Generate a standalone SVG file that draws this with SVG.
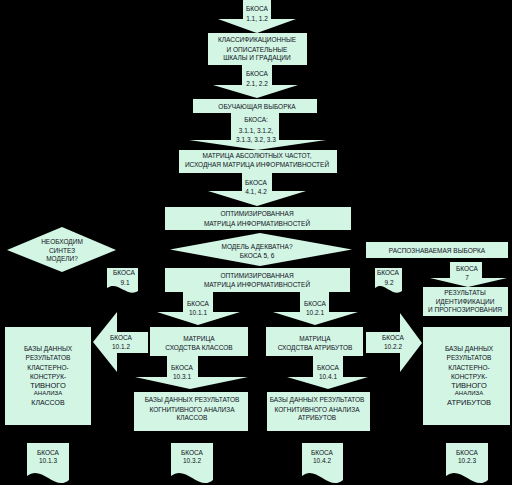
<svg xmlns="http://www.w3.org/2000/svg" width="512" height="485" viewBox="0 0 512 485">
<style>
.s{fill:#d2f5e4;stroke:none}
text{font-family:"Liberation Sans",Arial,sans-serif;font-size:6.5px;fill:#111122;text-anchor:middle}
</style>
<rect x="0" y="0" width="512" height="485" fill="#000000"/>
<g id="connectors">
  <g id="a1"><polygon class="s" points="243,0 271,0 271,19 296,19 257,33 218,19 243,19"/>
    <text x="257" y="11">БКОСА</text><text x="257" y="20.5">1.1, 1.2</text></g>
  <g id="a2"><polygon class="s" points="242,65 272,65 272,85 298,85 257,98 213,85 242,85"/>
    <text x="257" y="76">БКОСА</text><text x="257" y="86">2.1, 2.2</text></g>
  <g id="a3"><polygon class="s" points="231,113 279,113 279,140 326,140 257,150 189,140 231,140"/>
    <text x="256" y="122">БКОСА:</text><text x="256" y="132.5">3.1.1, 3.1.2,</text><text x="256" y="142">3.1.3, 3.2, 3.3</text></g>
  <g id="a4"><polygon class="s" points="242,173 272,173 272,191 306,191 257,206 208,191 242,191"/>
    <text x="256" y="185">БКОСА</text><text x="256" y="194">4.1, 4.2</text></g>
  <g id="a7"><polygon class="s" points="450,262 482,262 482,278 507,278 468,287 430,278 450,278"/>
    <text x="467" y="271">БКОСА</text><text x="467" y="280">7</text></g>
  <g id="a1011"><polygon class="s" points="183,292 213,292 213,312 240,312 198,325 157,312 183,312"/>
    <text x="198" y="306">БКОСА</text><text x="198" y="315">10.1.1</text></g>
  <g id="a1021"><polygon class="s" points="300,292 329,292 329,312 358,312 315,325 273,312 300,312"/>
    <text x="315" y="306">БКОСА</text><text x="315" y="315">10.2.1</text></g>
  <g id="a1012"><polygon class="s" points="148,332 148,353 117,353 117,372 93,342 117,312 117,332"/>
    <text x="121" y="340">БКОСА</text><text x="121" y="349">10.1.2</text></g>
  <g id="a1022"><polygon class="s" points="366,332 400,332 400,313 422,343 400,372 400,353 366,353"/>
    <text x="393" y="340">БКОСА</text><text x="393" y="349">10.2.2</text></g>
  <g id="a1031"><polygon class="s" points="167,356 198,356 198,377 248,377 190,389 135,377 167,377"/>
    <text x="182" y="369.5">БКОСА</text><text x="182" y="378.5">10.3.1</text></g>
  <g id="a1041"><polygon class="s" points="313,356 343,356 343,377 368,377 328,389 287,377 313,377"/>
    <text x="328" y="369.5">БКОСА</text><text x="328" y="378.5">10.4.1</text></g>
</g>
<g id="scales"><rect class="s" x="208" y="33" width="99" height="32"/>
  <text x="257" y="42">КЛАССИФИКАЦИОННЫЕ</text><text x="257" y="52">И ОПИСАТЕЛЬНЫЕ</text><text x="257" y="60">ШКАЛЫ И ГРАДАЦИИ</text></g>
<g id="training"><rect class="s" x="193" y="99" width="124" height="14"/>
  <text x="257" y="109">ОБУЧАЮЩАЯ ВЫБОРКА</text></g>
<g id="abs"><rect class="s" x="179" y="150" width="158" height="23"/>
  <text x="257" y="157.5">МАТРИЦА АБСОЛЮТНЫХ ЧАСТОТ,</text><text x="257" y="167">ИСХОДНАЯ МАТРИЦА ИНФОРМАТИВНОСТЕЙ</text></g>
<g id="opt1"><rect class="s" x="165" y="207" width="186" height="23"/>
  <text x="257" y="216">ОПТИМИЗИРОВАННАЯ</text><text x="257" y="225.5">МАТРИЦА ИНФОРМАТИВНОСТЕЙ</text></g>
<g id="adequate"><polygon class="s" points="170,249.5 260,233 352,249.5 260,266"/>
  <text x="257" y="249">МОДЕЛЬ АДЕКВАТНА?</text><text x="257" y="258">БКОСА 5, 6</text></g>
<g id="opt2"><rect class="s" x="165" y="268" width="185" height="24"/>
  <text x="257" y="278">ОПТИМИЗИРОВАННАЯ</text><text x="257" y="287">МАТРИЦА ИНФОРМАТИВНОСТЕЙ</text></g>
<g id="synth"><polygon class="s" points="7,250 62,227 116,250 62,272"/>
  <text x="62" y="244">НЕОБХОДИМ</text><text x="62" y="253">СИНТЕЗ</text><text x="62" y="261">МОДЕЛИ?</text></g>
<g id="d91"><path class="s" d="M107,268 H138 V291 C127,298 118,280 107,288 Z"/>
  <text x="124" y="275">БКОСА</text><text x="125" y="285">9.1</text></g>
<g id="d92"><path class="s" d="M375,268 H402 V291 C392,298 384,280 375,288 Z"/>
  <text x="388" y="275">БКОСА</text><text x="389" y="285">9.2</text></g>
<g id="recog"><rect class="s" x="366" y="242" width="142" height="16"/>
  <text x="437" y="252.5">РАСПОЗНАВАЕМАЯ ВЫБОРКА</text></g>
<g id="results"><rect class="s" x="423" y="287" width="85" height="29"/>
  <text x="465" y="295">РЕЗУЛЬТАТЫ</text><text x="465" y="303.5">ИДЕНТИФИКАЦИИ</text><text x="465" y="312">И ПРОГНОЗИРОВАНИЯ</text></g>
<g id="simcls"><rect class="s" x="150" y="327" width="98" height="29"/>
  <text x="199" y="341">МАТРИЦА</text><text x="199" y="350">СХОДСТВА КЛАССОВ</text></g>
<g id="simattr"><rect class="s" x="266" y="327" width="97" height="29"/>
  <text x="315" y="341">МАТРИЦА</text><text x="315" y="350">СХОДСТВА АТРИБУТОВ</text></g>
<g id="dbclsL"><rect class="s" x="5" y="327" width="86" height="98"/>
  <text x="48" y="351">БАЗЫ ДАННЫХ</text><text x="48" y="360">РЕЗУЛЬТАТОВ</text><text x="48" y="370">КЛАСТЕРНО-</text><text x="48" y="379">КОНСТРУК-</text><text x="48" y="388" style="font-size:7.5px">ТИВНОГО</text><text x="48" y="395" style="font-size:6px">АНАЛИЗА</text><text x="48" y="404.5" style="font-size:7px">КЛАССОВ</text></g>
<g id="dbattrR"><rect class="s" x="423" y="327" width="87" height="98"/>
  <text x="469" y="351">БАЗЫ ДАННЫХ</text><text x="469" y="360">РЕЗУЛЬТАТОВ</text><text x="469" y="370">КЛАСТЕРНО-</text><text x="469" y="379">КОНСТРУК-</text><text x="469" y="388" style="font-size:7.5px">ТИВНОГО</text><text x="469" y="395" style="font-size:6px">АНАЛИЗА</text><text x="469" y="404.5" style="font-size:7.5px">АТРИБУТОВ</text></g>
<g id="dbcogcls"><rect class="s" x="134" y="392" width="114" height="39"/>
  <text x="192" y="402">БАЗЫ ДАННЫХ РЕЗУЛЬТАТОВ</text><text x="192" y="411.5">КОГНИТИВНОГО АНАЛИЗА</text><text x="192" y="420">КЛАССОВ</text></g>
<g id="dbcogattr"><rect class="s" x="267" y="392" width="103" height="39"/>
  <text x="317" y="402">БАЗЫ ДАННЫХ РЕЗУЛЬТАТОВ</text><text x="317" y="411.5">КОГНИТИВНОГО АНАЛИЗА</text><text x="317" y="420">АТРИБУТОВ</text></g>
<g id="d1013"><path class="s" d="M27,443 H69 V480 C55,492 42,464 27,476 Z"/>
  <text x="48" y="455">БКОСА</text><text x="48" y="463">10.1.3</text></g>
<g id="d1032"><path class="s" d="M171,443 H213 V480 C199,492 186,464 171,476 Z"/>
  <text x="192" y="455">БКОСА</text><text x="192" y="463">10.3.2</text></g>
<g id="d1042"><path class="s" d="M302,443 H343 V480 C329,492 316,464 302,476 Z"/>
  <text x="322" y="455">БКОСА</text><text x="322" y="463">10.4.2</text></g>
<g id="d1023"><path class="s" d="M446,443 H488 V480 C474,492 461,464 446,476 Z"/>
  <text x="467" y="455">БКОСА</text><text x="467" y="463">10.2.3</text></g>
</svg>
